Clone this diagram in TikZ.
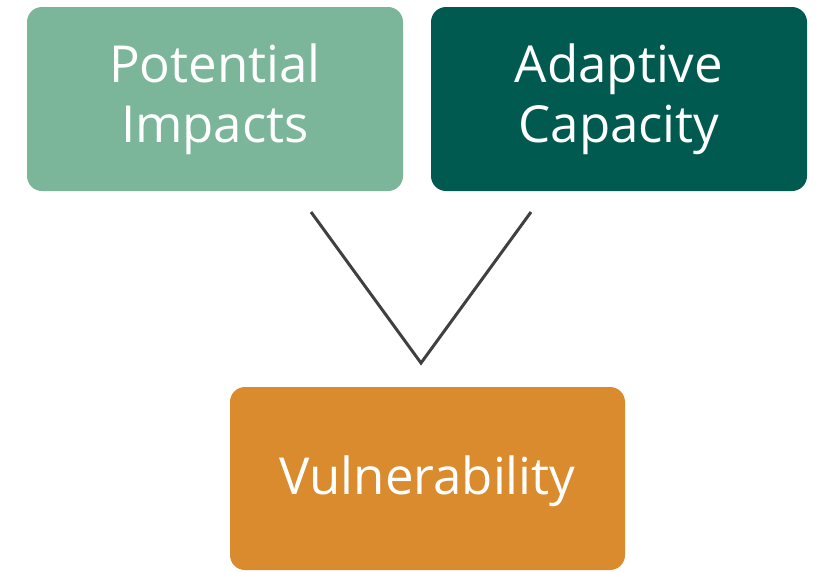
\documentclass[tikz,border=0pt]{standalone}
\usepackage{fontspec}
\setmainfont{Open Sans}
\definecolor{lightgreen}{HTML}{7BB59A}
\definecolor{darkgreen}{HTML}{005A50}
\definecolor{orange}{HTML}{D98B2E}
\definecolor{linegray}{HTML}{404040}
\begin{document}
\begin{tikzpicture}[x=1pt,y=-1pt,
  box/.style={rounded corners=15pt, text=white, align=center,
    font=\fontsize{51}{60}\selectfont, inner sep=0pt},
  vline/.style={draw=linegray, line width=3pt}]
\useasboundingbox (0,0) rectangle (818,571);
\fill[lightgreen, rounded corners=15pt] (27,7) rectangle (403,191);
\node[box, minimum width=376pt, minimum height=184pt] (pi) at (215,99) {Potential\\Impacts};
\fill[darkgreen, rounded corners=15pt] (431,7) rectangle (807,191);
\node[box, minimum width=376pt, minimum height=184pt] (ac) at (619,99) {Adaptive\\Capacity};
\fill[orange, rounded corners=15pt] (230,387) rectangle (625,570);
\node[box, minimum width=395pt, minimum height=183pt] (vu) at (427.5,481) {Vulnerability};
\coordinate (l) at (311,212);
\coordinate (apex) at (421,363);
\coordinate (r) at (531,212);
\draw[vline] (l) -- (apex) -- (r);
\end{tikzpicture}
\end{document}
